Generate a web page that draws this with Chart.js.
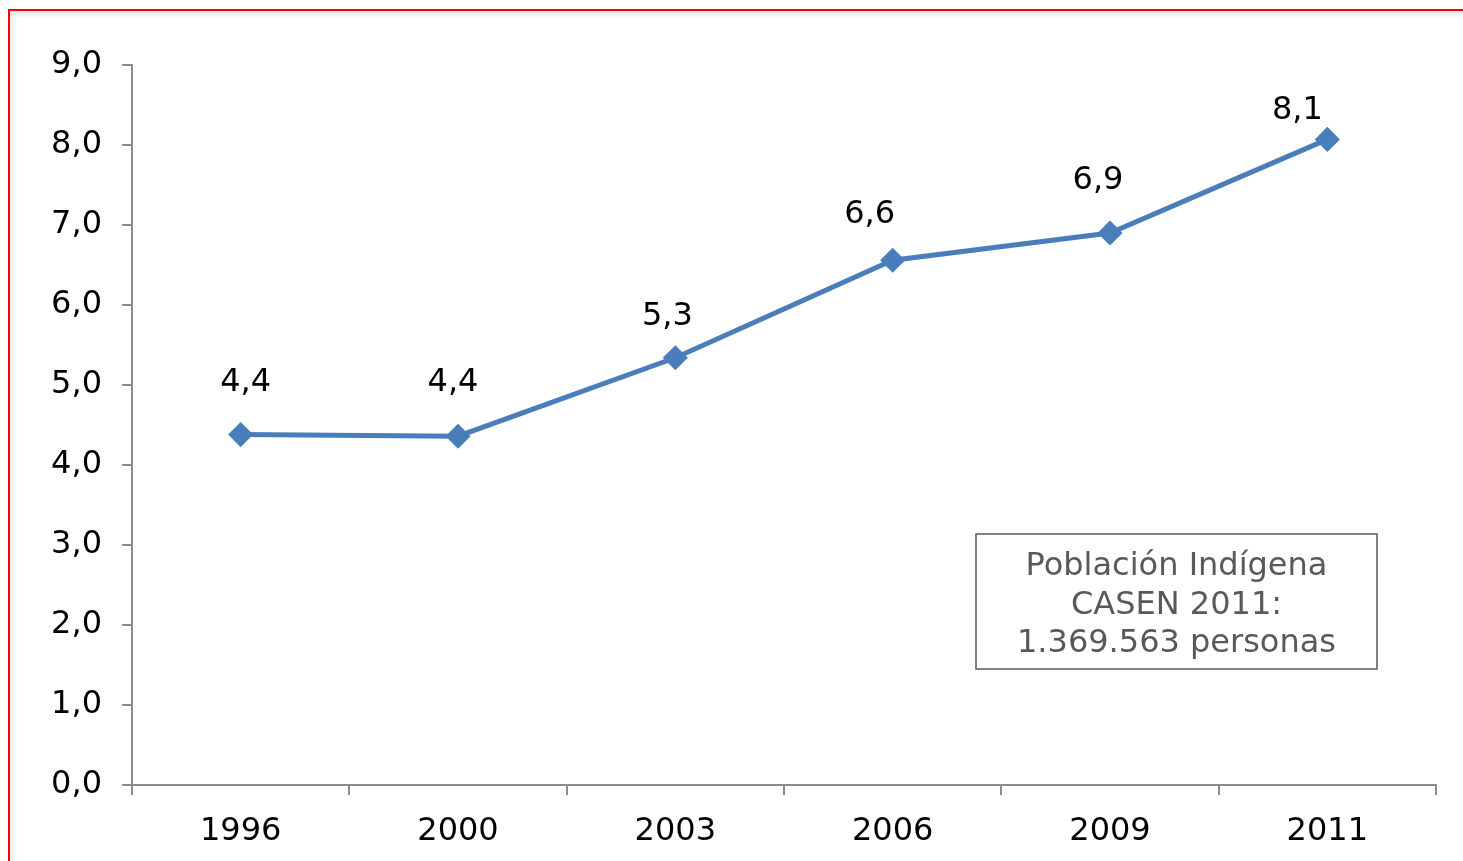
<!DOCTYPE html>
<html>
<head>
<meta charset="utf-8">
<script src="https://cdn.jsdelivr.net/npm/chart.js@4.4.0/dist/chart.umd.min.js"></script>
<style>
  html, body { margin: 0; padding: 0; background: #fff; overflow: hidden; }
  #frame {
    position: absolute; left: 8px; top: 9px; width: 1470px; height: 870px;
    border-top: 2px solid #ff0000; border-left: 2px solid #ff0000;
    box-shadow: 2px 3px 6px rgba(0,0,0,0.12) inset;
  }
  #myChart { position: absolute; left: 0; top: 0; }
</style>
</head>
<body>
<div id="frame"></div>
<canvas id="myChart" width="1463" height="861"></canvas>
<script>
const years = ['1996', '2000', '2003', '2006', '2009', '2011'];
const porcentaje = [4.38, 4.36, 5.34, 6.56, 6.90, 8.07];
const yTicks = [0, 1, 2, 3, 4, 5, 6, 7, 8, 9];
const noteLines = ['Población Indígena', 'CASEN 2011:', '1.369.563 personas'];

const FONT = '"DejaVu Sans", Verdana, sans-serif';

function fmt(v){
  return v.toFixed(1).replace('.', ',');
}

// value labels above each point (offsets as placed by hand in the original)
const valueLabels = {
  id: 'valueLabels',
  afterDatasetsDraw(chart, args, opts){
    const ctx = chart.ctx;
    const meta = chart.getDatasetMeta(0);
    ctx.save();
    ctx.font = '32px ' + FONT;
    ctx.fillStyle = '#000';
    ctx.textAlign = 'center';
    ctx.textBaseline = 'middle';
    meta.data.forEach(function(pt, i){
      ctx.fillText(fmt(porcentaje[i]), pt.x + opts.dx[i], pt.y - opts.dy[i]);
    });
    ctx.restore();
  }
};

// text box with total
const noteBox = {
  id: 'noteBox',
  afterDraw(chart){
    const ctx = chart.ctx;
    const x = 976, y = 534, w = 401, h = 135;
    ctx.save();
    ctx.strokeStyle = '#595959';
    ctx.lineWidth = 1.5;
    ctx.strokeRect(x, y, w, h);
    ctx.font = '32px ' + FONT;
    ctx.fillStyle = '#595959';
    ctx.textAlign = 'center';
    ctx.textBaseline = 'middle';
    noteLines.forEach(function(t, i){
      ctx.fillText(t, x + w / 2, y + 33 + i * 38.5);
    });
    ctx.restore();
  }
};

const ctx = document.getElementById('myChart');
const myChart = new Chart(ctx, {
  type: 'line',
  data: {
    labels: years,
    datasets: [{
      data: porcentaje,
      borderColor: '#4a7ebb',
      backgroundColor: '#4a7ebb',
      borderWidth: 5,
      pointStyle: 'rectRot',
      pointRadius: 9,
      pointHoverRadius: 9,
      tension: 0
    }]
  },
  options: {
    responsive: false,
    maintainAspectRatio: false,
    animation: false,
    events: [],
    layout: { padding: { top: 65, right: 27, left: 0, bottom: 0 } },
    plugins: {
      legend: { display: false },
      tooltip: { enabled: false },
      valueLabels: { dx: [5, -5, -8, -23, -12, -30], dy: [52, 54, 41, 46, 52, 29] }
    },
    scales: {
      x: {
        offset: true,
        grid: { offset: true, drawOnChartArea: false, drawTicks: true, tickLength: 10, color: '#8c8c8c', lineWidth: 2 },
        border: { color: '#8c8c8c', width: 2 },
        ticks: { color: '#000', font: { family: FONT, size: 32 }, padding: 17, maxRotation: 0 },
        afterFit(scale){ scale.height = 76; }
      },
      y: {
        min: 0,
        max: 9,
        afterBuildTicks(scale){ scale.ticks = yTicks.map(v => ({ value: v })); },
        grid: { drawOnChartArea: false, drawTicks: true, tickLength: 10, color: '#8c8c8c', lineWidth: 2 },
        border: { color: '#8c8c8c', width: 2 },
        ticks: {
          color: '#000',
          font: { family: FONT, size: 32 },
          padding: 20,
          callback: v => fmt(v)
        },
        afterFit(scale){ scale.width = 132; }
      }
    }
  },
  plugins: [valueLabels, noteBox]
});
</script>
</body>
</html>
